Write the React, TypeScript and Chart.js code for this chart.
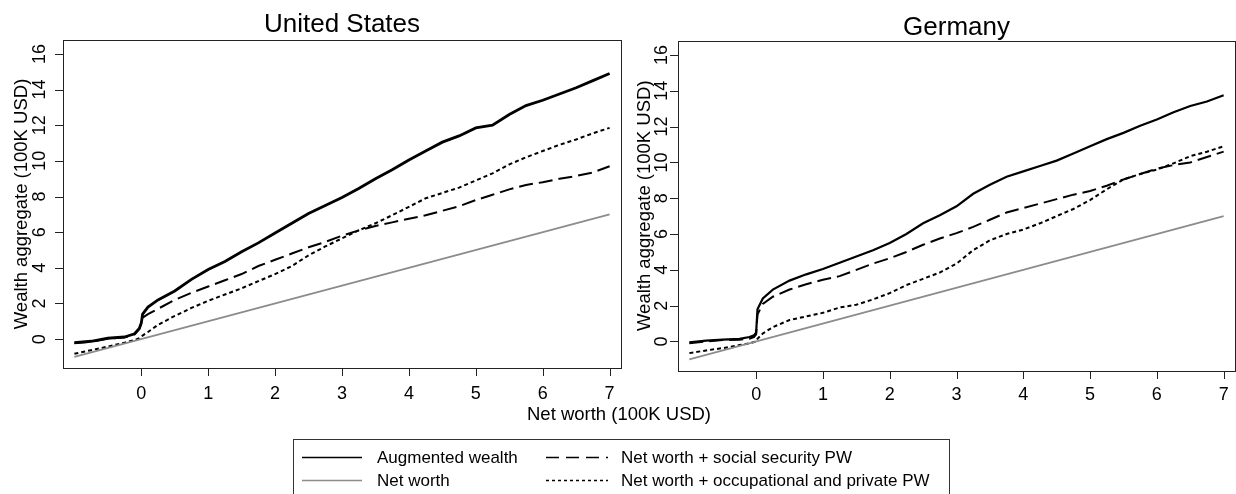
import React, { useEffect, useRef } from "react";
import { Chart, registerables } from "chart.js";

Chart.register(...registerables);

// ---------- data ----------
const panelTitles = ["United States", "Germany"];
const xAxisTitle = "Net worth (100K USD)";
const yAxisTitle = "Wealth aggregate (100K USD)";
const seriesNames = [
  "Augmented wealth",
  "Net worth + social security PW",
  "Net worth",
  "Net worth + occupational and private PW",
];
const xTickValues = [0, 1, 2, 3, 4, 5, 6, 7];
const yTickValues = [0, 2, 4, 6, 8, 10, 12, 14, 16];

const gridX = [
  -1, -0.75, -0.5, -0.25, -0.1, -0.03, 0, 0.02, 0.1, 0.25, 0.5, 0.75, 1, 1.25, 1.5, 1.75, 2, 2.25, 2.5, 2.75,
  3, 3.25, 3.5, 3.75, 4, 4.25, 4.5, 4.75, 5, 5.25, 5.5, 5.75, 6, 6.25, 6.5, 6.75, 7,
];

const usAugmented = [
  -0.2, -0.12, 0.05, 0.12, 0.3, 0.6, 0.9, 1.4, 1.8, 2.2, 2.7, 3.35, 3.9, 4.35, 4.9, 5.4, 5.95, 6.5, 7.05, 7.5,
  7.95, 8.45, 9.0, 9.5, 10.05, 10.55, 11.05, 11.4, 11.85, 12.0, 12.6, 13.1, 13.4, 13.75, 14.1, 14.5, 14.9,
];
const usSocial = [
  -0.23, -0.15, 0.02, 0.09, 0.27, 0.57, 0.9, 1.2, 1.4, 1.7, 2.2, 2.6, 2.95, 3.3, 3.65, 4.1, 4.45, 4.8, 5.15, 5.45,
  5.8, 6.1, 6.35, 6.55, 6.75, 6.95, 7.2, 7.45, 7.8, 8.1, 8.4, 8.65, 8.8, 9.0, 9.15, 9.35, 9.7,
];
const usOccupational = [
  -0.82, -0.62, -0.42, -0.2, -0.05, 0.05, 0.12, 0.2, 0.4, 0.8, 1.3, 1.75, 2.15, 2.5, 2.85, 3.25, 3.65, 4.1, 4.7, 5.2,
  5.65, 6.1, 6.5, 6.95, 7.42, 7.9, 8.2, 8.5, 8.9, 9.3, 9.8, 10.2, 10.55, 10.9, 11.2, 11.55, 11.85,
];

const deAugmented = [
  -0.05, 0.05, 0.1, 0.15, 0.25, 0.35, 0.5, 1.8, 2.4, 2.9, 3.4, 3.75, 4.05, 4.4, 4.75, 5.1, 5.5, 6.0, 6.6, 7.05,
  7.55, 8.25, 8.75, 9.2, 9.5, 9.8, 10.1, 10.5, 10.9, 11.3, 11.65, 12.05, 12.4, 12.8, 13.15, 13.4, 13.75,
];
const deSocial = [
  -0.1, 0.0, 0.08, 0.1, 0.15, 0.25, 0.4, 1.5, 2.1, 2.5, 2.9, 3.2, 3.45, 3.65, 4.0, 4.35, 4.65, 5.0, 5.4, 5.75,
  6.05, 6.4, 6.8, 7.2, 7.45, 7.7, 7.95, 8.2, 8.4, 8.7, 9.05, 9.35, 9.65, 9.85, 10.0, 10.3, 10.6,
];
const deOccupational = [
  -0.65, -0.5, -0.37, -0.2, -0.1, -0.03, 0.0, 0.15, 0.45, 0.8, 1.2, 1.4, 1.6, 1.9, 2.05, 2.35, 2.7, 3.15, 3.5, 3.85,
  4.35, 5.1, 5.65, 6.0, 6.25, 6.6, 7.0, 7.4, 7.9, 8.5, 9.05, 9.35, 9.6, 9.95, 10.35, 10.6, 10.9,
];

const netWorthX = [-1, 7];
const netWorthY = [-1, 7];

const xRange = [-1.17, 7.17];
const yRange = [-1.62, 16.78];

// ---------- styling ----------
const FONT = "'Liberation Sans', Arial, Helvetica, sans-serif";
const GRAY = "#8c8c8c";
const LONG_DASH = [14, 6];
const SHORT_DASH = [4, 3];

const toPoints = (xs: number[], ys: number[]) => xs.map((x, i) => ({ x, y: ys[i] }));

function buildDatasets(aug: number[], soc: number[], occ: number[], augWidth: number) {
  return [
    {
      label: seriesNames[2],
      data: toPoints(netWorthX, netWorthY),
      borderColor: GRAY,
      borderWidth: 1.8,
      borderDash: [],
    },
    {
      label: seriesNames[3],
      data: toPoints(gridX, occ),
      borderColor: "#000",
      borderWidth: 2,
      borderDash: SHORT_DASH,
    },
    {
      label: seriesNames[1],
      data: toPoints(gridX, soc),
      borderColor: "#000",
      borderWidth: 2,
      borderDash: LONG_DASH,
    },
    {
      label: seriesNames[0],
      data: toPoints(gridX, aug),
      borderColor: "#000",
      borderWidth: augWidth,
      borderDash: [],
    },
  ];
}

type PanelCfg = {
  title: string;
  titleBaseline: number;
  yLabelX: number;
  yTitleX: number;
  xLabelBaseline: number;
  drawShared: boolean;
};

function panelPlugin(cfg: PanelCfg) {
  return {
    id: "rPanel",
    afterDraw(chart: any) {
      const { ctx, chartArea: a, scales } = chart;
      const xs = scales.x;
      const ys = scales.y;
      ctx.save();
      // box
      ctx.strokeStyle = "#222";
      ctx.lineWidth = 1;
      ctx.setLineDash([]);
      ctx.strokeRect(
        Math.round(a.left) + 0.5,
        Math.round(a.top) + 0.5,
        Math.round(a.right - a.left),
        Math.round(a.bottom - a.top)
      );
      // tick marks
      ctx.beginPath();
      xTickValues.forEach((v) => {
        const p = Math.round(xs.getPixelForValue(v)) + 0.5;
        ctx.moveTo(p, Math.round(a.bottom));
        ctx.lineTo(p, Math.round(a.bottom) + 8);
      });
      yTickValues.forEach((v) => {
        const p = Math.round(ys.getPixelForValue(v)) + 0.5;
        ctx.moveTo(Math.round(a.left), p);
        ctx.lineTo(Math.round(a.left) - 8, p);
      });
      ctx.stroke();
      // tick labels
      ctx.fillStyle = "#000";
      ctx.font = `18px ${FONT}`;
      ctx.textAlign = "center";
      ctx.textBaseline = "alphabetic";
      xTickValues.forEach((v) => ctx.fillText(String(v), xs.getPixelForValue(v), cfg.xLabelBaseline));
      yTickValues.forEach((v) => {
        ctx.save();
        ctx.translate(cfg.yLabelX + 6.4, ys.getPixelForValue(v));
        ctx.rotate(-Math.PI / 2);
        ctx.fillText(String(v), 0, 0);
        ctx.restore();
      });
      // y title
      ctx.font = `18.5px ${FONT}`;
      ctx.save();
      ctx.translate(cfg.yTitleX + 6.6, (a.top + a.bottom) / 2);
      ctx.rotate(-Math.PI / 2);
      ctx.fillText(yAxisTitle, 0, 0);
      ctx.restore();
      // main title
      ctx.font = `26px ${FONT}`;
      ctx.fillText(cfg.title, (a.left + a.right) / 2, cfg.titleBaseline);

      if (cfg.drawShared) {
        // shared x-axis title
        ctx.font = `18.5px ${FONT}`;
        ctx.fillText(xAxisTitle, 619, 419.5);
        // legend
        ctx.strokeStyle = "#333";
        ctx.lineWidth = 1;
        ctx.strokeRect(293.5, 439.5, 656, 80);
        const byLabel: any = {};
        chart.data.datasets.forEach((d: any) => (byLabel[d.label] = d));
        const slots = [
          { name: seriesNames[0], x0: 302, x1: 362, tx: 377, y: 457 },
          { name: seriesNames[1], x0: 546, x1: 608, tx: 621, y: 457 },
          { name: seriesNames[2], x0: 302, x1: 362, tx: 377, y: 480 },
          { name: seriesNames[3], x0: 546, x1: 608, tx: 621, y: 480 },
        ];
        ctx.font = `17px ${FONT}`;
        ctx.textAlign = "left";
        slots.forEach((s) => {
          const d = byLabel[s.name];
          ctx.save();
          ctx.strokeStyle = d.borderColor;
          ctx.lineWidth = d.borderColor === GRAY ? 1.4 : 1.3;
          const dash = d.borderDash && d.borderDash.length ? (d.borderDash === SHORT_DASH ? [3, 3] : [13, 7]) : [];
          ctx.setLineDash(dash);
          ctx.beginPath();
          ctx.moveTo(s.x0, s.y + 0.5);
          ctx.lineTo(s.x1, s.y + 0.5);
          ctx.stroke();
          ctx.restore();
          ctx.fillStyle = "#000";
          ctx.fillText(s.name, s.tx, s.y + 6.1);
        });
      }
      ctx.restore();
    },
  };
}

function makeConfig(datasets: any[], padding: any, cfg: PanelCfg) {
  return {
    type: "line" as const,
    data: { datasets },
    options: {
      animation: false as const,
      responsive: false,
      devicePixelRatio: 1,
      layout: { padding, autoPadding: false },
      parsing: true,
      elements: { point: { radius: 0 }, line: { tension: 0 } },
      plugins: { legend: { display: false }, tooltip: { enabled: false }, title: { display: false } },
      scales: {
        x: { type: "linear" as const, min: xRange[0], max: xRange[1], display: false },
        y: { type: "linear" as const, min: yRange[0], max: yRange[1], display: false },
      },
    },
    plugins: [panelPlugin(cfg)],
  };
}

export default function App() {
  const refA = useRef<HTMLCanvasElement | null>(null);
  const refB = useRef<HTMLCanvasElement | null>(null);

  useEffect(() => {
    const a = new Chart(
      refA.current as HTMLCanvasElement,
      makeConfig(
        buildDatasets(usAugmented, usSocial, usOccupational, 2.8),
        { left: 63, top: 40, right: 615, bottom: 126 },
        { title: panelTitles[0], titleBaseline: 32, yLabelX: 39, yTitleX: 20.5, xLabelBaseline: 398.5, drawShared: true }
      ) as any
    );
    const b = new Chart(
      refB.current as HTMLCanvasElement,
      makeConfig(
        buildDatasets(deAugmented, deSocial, deOccupational, 2.2),
        { left: 56, top: 41, right: 1, bottom: 33.5 },
        { title: panelTitles[1], titleBaseline: 35, yLabelX: 38.5, yTitleX: 21, xLabelBaseline: 400, drawShared: false }
      ) as any
    );
    return () => {
      a.destroy();
      b.destroy();
    };
  }, []);

  return (
    <div style={{ position: "absolute", left: 0, top: 0, width: 1236, height: 494, background: "#fff", overflow: "hidden" }}>
      <canvas ref={refA} width={1236} height={494} style={{ position: "absolute", left: 0, top: 0, width: 1236, height: 494 }} />
      <canvas ref={refB} width={614} height={404} style={{ position: "absolute", left: 622, top: 0, width: 614, height: 404 }} />
    </div>
  );
}
